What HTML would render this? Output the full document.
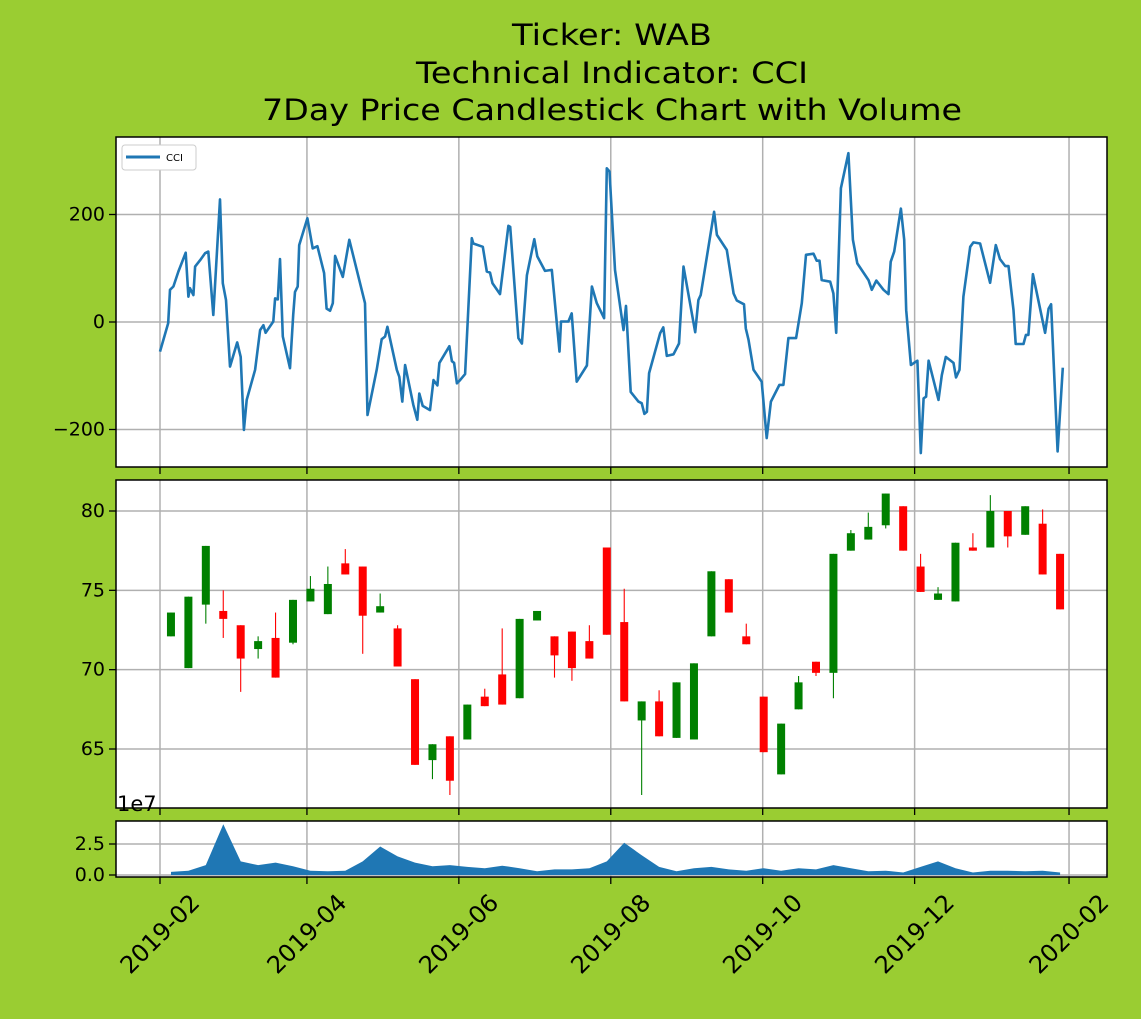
<!DOCTYPE html>
<html><head><meta charset="utf-8"><style>
html,body{margin:0;padding:0;background:#9acd32;}
svg{display:block;font-family:"DejaVu Sans","Liberation Sans",sans-serif;}
</style></head><body>
<svg id="chart" width="1141" height="1019" viewBox="0 0 1141 1019" xmlns="http://www.w3.org/2000/svg">
<rect x="0" y="0" width="1141" height="1019" fill="#9acd32"/>
<g font-size="29" text-anchor="middle" fill="#000">
<text x="612" y="45" textLength="200" lengthAdjust="spacingAndGlyphs">Ticker: WAB</text>
<text x="612" y="83" textLength="392" lengthAdjust="spacingAndGlyphs">Technical Indicator: CCI</text>
<text x="612" y="120" textLength="700" lengthAdjust="spacingAndGlyphs">7Day Price Candlestick Chart with Volume</text>
</g>
<rect x="116" y="137" width="991" height="330" fill="#fff"/>
<rect x="116" y="480" width="991" height="328" fill="#fff"/>
<rect x="116" y="821" width="991" height="56" fill="#fff"/>
<g id="grid"></g>
<g id="marks"></g>
<g id="frames" fill="none" stroke="#000" stroke-width="1.5">
<rect x="116" y="137" width="991" height="330"/>
<rect x="116" y="480" width="991" height="328"/>
<rect x="116" y="821" width="991" height="56"/>
</g>
<g id="ticks" font-size="19" fill="#000"></g>
<text x="117" y="811" font-size="21">1e7</text>
<g>
<rect x="122" y="145" width="74" height="25" rx="3" fill="#fff" stroke="#ccc" stroke-width="1"/>
<line x1="126" y1="157" x2="160" y2="157" stroke="#1f77b4" stroke-width="3"/>
<text x="166" y="161" font-size="10">CCI</text>
</g>
</svg>
<script>
// ---- data ----
const monthTicks = ["2019-02","2019-04","2019-06","2019-08","2019-10","2019-12","2020-02"];
const monthTickDays = [0,59,120,181,242,303,365];
const cciTicks = [-200,0,200];
const priceTicks = [65,70,75,80];
const volTicks = [0,25];
const volTickLabels = ["0.0","2.5"];
const cciDays = [0,3.3,4.0,5.4,7.4,10.3,11.4,12.0,13.4,14.1,16.1,18.1,19.4,21.4,24.1,25.2,26.5,28.1,31.0,32.4,33.7,34.8,38.2,40.2,41.5,42.4,45.5,46.2,47.3,48.2,49.3,52.2,53.5,54.2,55.3,55.9,59.2,61.3,63.2,65.9,66.9,68.3,69.4,70.3,73.4,76.0,82.3,83.3,87.0,89.0,90.4,91.3,95.1,96.1,97.3,98.4,101.7,103.3,104.1,105.5,108.4,109.8,111.4,112.2,116.2,117.2,118.1,119.2,120.5,122.5,125.2,125.8,129.6,131.2,132.5,133.5,136.5,139.9,140.6,143.9,145.3,147.3,150.3,151.5,154.6,157.3,160.4,161.0,164.0,165.3,167.3,171.4,173.4,175.4,178.3,179.4,180.5,182.7,186.1,187.1,189.0,192.1,193.4,194.5,195.5,196.4,200.8,202.1,203.5,206.2,208.4,210.2,214.9,216.2,217.1,222.5,223.6,227.6,230.3,231.6,234.5,235.2,236.3,238.3,241.6,243.6,245.3,248.7,250.3,252.3,255.4,257.7,259.4,262.4,263.7,264.8,265.7,269.1,270.4,271.5,273.4,276.4,278.2,280.0,284.5,285.8,287.6,290.5,292.5,293.4,294.8,297.5,298.8,299.6,301.5,304.1,305.5,306.6,307.6,308.6,312.6,313.9,315.5,318.6,319.6,321.0,322.6,325.3,326.6,329.3,333.3,335.6,337.3,339.4,340.7,342.7,343.6,346.7,347.7,348.7,350.5,355.4,356.8,357.8,360.4,362.5];
const cciValues = [-55,-2,60,66,94,129,47,63,50,103,115,128,131,13,228,72,41,-83,-38,-65,-201,-145,-89,-15,-6,-20,1,44,42,117,-27,-86,13,56,66,143,193,137,141,91,25,21,35,123,84,153,35,-173,-89,-32,-27,-9,-89,-102,-148,-80,-154,-182,-133,-156,-164,-108,-118,-76,-45,-73,-76,-114,-108,-97,156,146,140,94,92,72,52,179,177,-30,-40,87,154,122,95,97,-55,1,1,16,-111,-81,66,35,7,286,280,97,-15,30,-130,-148,-151,-171,-167,-95,-21,-10,-63,-60,-40,103,-19,41,50,205,162,134,53,40,33,-12,-33,-89,-111,-216,-148,-117,-117,-30,-30,35,125,127,114,114,78,75,53,-20,249,314,153,109,78,60,77,60,52,112,131,211,153,22,-80,-72,-244,-142,-139,-72,-145,-99,-65,-76,-103,-89,47,140,148,146,73,143,117,104,104,22,-41,-41,-24,-24,89,-20,25,33,-241,-85];
const candleOpen  = [72.1,70.1,74.1,73.7,72.8,71.3,72.0,71.7,74.3,73.5,76.7,76.5,73.6,72.6,69.4,64.3,65.8,65.6,68.3,69.7,68.2,73.1,72.1,72.4,71.8,77.7,73.0,66.8,68.0,65.7,65.6,72.1,75.7,72.1,68.3,63.4,67.5,70.5,69.8,77.5,78.2,79.1,80.3,76.5,74.4,74.3,77.7,77.7,80.0,78.5,79.2,77.3];
const candleClose = [73.6,74.6,77.8,73.2,70.7,71.8,69.5,74.4,75.1,75.4,76.0,73.4,74.0,70.2,64.0,65.3,63.0,67.8,67.7,67.8,73.2,73.7,70.9,70.1,70.7,72.2,68.0,68.0,65.8,69.2,70.4,76.2,73.6,71.6,64.8,66.6,69.2,69.8,77.3,78.6,79.0,81.1,77.5,74.9,74.8,78.0,77.5,80.0,78.4,80.3,76.0,73.8];
const candleHigh  = [73.6,74.6,77.8,75.0,72.8,72.1,73.6,74.4,75.9,76.5,77.6,76.5,74.8,72.8,69.4,65.3,65.8,67.8,68.8,72.6,73.2,73.7,72.1,72.4,72.8,77.7,75.1,68.0,68.7,69.2,70.4,76.2,75.7,72.9,68.3,66.6,69.6,70.5,77.3,78.8,79.9,81.1,80.3,77.3,75.2,78.0,78.6,81.0,80.0,80.3,80.1,77.3];
const candleLow   = [72.1,70.1,72.9,72.0,68.6,70.7,69.5,71.6,74.3,73.5,76.0,71.0,73.6,70.2,64.0,63.1,62.1,65.6,67.7,67.8,68.2,73.1,69.5,69.3,70.7,72.2,68.0,62.1,65.8,65.7,65.6,72.1,73.6,71.6,64.8,63.4,67.5,69.6,68.2,77.5,78.2,78.9,77.5,74.9,74.4,74.3,77.5,77.7,77.7,78.5,76.0,73.8];
const volumeValues = [2.5,3.5,8,41,11,8,10,7,3.5,3,3.5,11,23,15,10,7,8,6.5,5.5,7.5,5.5,3,4.5,4.5,5.5,11,26,16,6.5,3,5.5,6.5,4.5,3.5,5.5,3.5,5.5,4.5,8,5.5,3,3.5,2,6.5,11,5.5,2,3.5,3.5,3,3.5,2];
const firstWeekDay = 4.4;

// ---- axes ----
const X0 = 160, PXDAY = 2.4905;
const xs = d => X0 + d * PXDAY;
const yCci = v => 322 - v * 0.5375;
const yPrice = v => 749 - (v - 65) * (238 / 15);
const yVol = v => 875 - v * 1.24;
const NS = "http://www.w3.org/2000/svg";
function mk(tag, attrs, parent) {
  const e = document.createElementNS(NS, tag);
  for (const k in attrs) e.setAttribute(k, attrs[k]);
  parent.appendChild(e);
  return e;
}
const grid = document.getElementById('grid');
const marks = document.getElementById('marks');
const ticks = document.getElementById('ticks');
const GRID = {stroke:'#b0b0b0','stroke-width':1.5};
const panels = [[137,467],[480,808],[821,877]];

monthTickDays.forEach((d, i) => {
  const x = xs(d);
  panels.forEach(p => {
    const g = mk('line', Object.assign({x1:x,x2:x,y1:p[0],y2:p[1]}, GRID), grid);
    
    
    const t = mk('line', {x1:x,x2:x,y1:p[1],y2:p[1]+7,stroke:'#000','stroke-width':1.3}, ticks);
    
    
  });
  const lbl = mk('text', {x:x, y:934, 'font-size':24, 'text-anchor':'middle', 'dominant-baseline':'central', transform:`rotate(-45 ${x} 934)`}, ticks);
  lbl.textContent = monthTicks[i];
  
  
});

function yAxis(vals, labels, fy) {
  vals.forEach((v, i) => {
    const y = fy(v);
    const g = mk('line', Object.assign({x1:116,x2:1107,y1:y,y2:y}, GRID), grid);
    
    
    const t = mk('line', {x1:109,x2:116,y1:y,y2:y,stroke:'#000','stroke-width':1.3}, ticks);
    
    
    const l = mk('text', {x:105, y:y, 'text-anchor':'end', 'dominant-baseline':'central'}, ticks);
    l.textContent = labels[i];
    
    
  });
}
yAxis(cciTicks, cciTicks.map(v => v < 0 ? '\u2212' + (-v) : String(v)), yCci);
yAxis(priceTicks, priceTicks.map(String), yPrice);
yAxis(volTicks, volTickLabels, yVol);

// CCI line
const cciPts = cciDays.map((d, i) => xs(d).toFixed(1) + ',' + yCci(cciValues[i]).toFixed(1)).join(' ');
const cl = mk('polyline', {points:cciPts, fill:'none', stroke:'#1f77b4', 'stroke-width':2.6, 'stroke-linejoin':'round'}, marks);



// candles
candleOpen.forEach((o, i) => {
  const c = candleClose[i];
  const x = xs(firstWeekDay + 7 * i);
  const col = c >= o ? '#008000' : '#ff0000';
  const w = mk('line', {x1:x, x2:x, y1:yPrice(candleHigh[i]), y2:yPrice(candleLow[i]), stroke:col, 'stroke-width':1.1}, marks);
  
  
  const top = yPrice(Math.max(o, c)), bot = yPrice(Math.min(o, c));
  const b = mk('rect', {x:x - 4, y:top, width:8, height:Math.max(1, bot - top), fill:col}, marks);
  
  
});

// volume area
let vp = `${xs(firstWeekDay)},${yVol(0)} `;
volumeValues.forEach((v, i) => { vp += `${xs(firstWeekDay + 7 * i).toFixed(1)},${yVol(v).toFixed(1)} `; });
vp += `${xs(firstWeekDay + 7 * (volumeValues.length - 1)).toFixed(1)},${yVol(0)}`;
const va = mk('polygon', {points:vp, fill:'#1f77b4'}, marks);


</script>
</body></html>
